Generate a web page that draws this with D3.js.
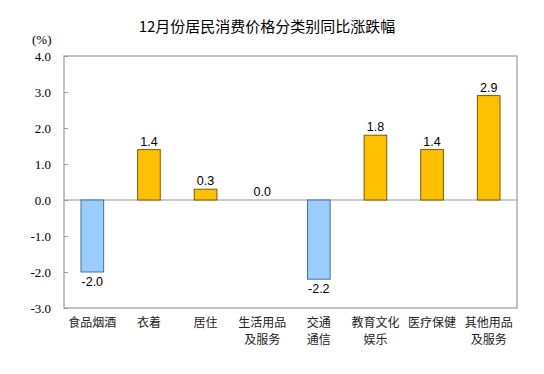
<!DOCTYPE html>
<html lang="zh">
<head>
<meta charset="utf-8">
<title>12月份居民消费价格分类别同比涨跌幅</title>
<script src="https://d3js.org/d3.v7.min.js"></script>
<style>
  body { margin: 0; background: #fff; }
  .title { font-family: "Noto Sans CJK SC", sans-serif; font-size: 15px; fill: #000; }
  .unit { font-family: "Liberation Serif", serif; font-size: 13px; fill: #000; }
  .cat { font-family: "Noto Sans CJK SC", sans-serif; font-size: 12px; fill: #222; }
  .val { font-family: "Liberation Sans", Arial, sans-serif; font-size: 12.5px; fill: #000; }
</style>
</head>
<body>
<script>
// data
var categories = ["食品烟酒", "衣着", "居住", "生活用品\n及服务", "交通\n通信", "教育文化\n娱乐", "医疗保健", "其他用品\n及服务"];
var values = [-2.0, 1.4, 0.3, 0.0, -2.2, 1.8, 1.4, 2.9];
var yTicks = [4, 3, 2, 1, 0, -1, -2, -3];

var width = 544, height = 374;
var margin = {top: 56, right: 27, bottom: 66, left: 64};

// plain hyphen for negatives, like the original
var fmt = function(d) { return d3.format(".1f")(d).replace("\u2212", "-"); };

var svg = d3.select("body").append("svg")
    .attr("width", width)
    .attr("height", height);

var x = d3.scaleBand()
    .domain(d3.range(categories.length))
    .range([margin.left, width - margin.right])
    .paddingInner(0.6)
    .paddingOuter(0.3);

var y = d3.scaleLinear()
    .domain([-3, 4])
    .range([height - margin.bottom, margin.top]);

// title
svg.append("text")
    .attr("class", "title")
    .attr("x", 267)
    .attr("y", 32)
    .attr("text-anchor", "middle")
    .text("12月份居民消费价格分类别同比涨跌幅");

svg.append("text")
    .attr("class", "unit")
    .attr("x", 32)
    .attr("y", 44)
    .text("(%)");

// plot frame
svg.append("rect")
    .attr("x", margin.left)
    .attr("y", margin.top)
    .attr("width", width - margin.left - margin.right)
    .attr("height", height - margin.top - margin.bottom)
    .attr("fill", "none")
    .attr("stroke", "#9a9a9a")
    .attr("stroke-width", 1.2);

// y axis
var yAxis = svg.append("g")
    .attr("transform", "translate(" + margin.left + ",0)")
    .call(d3.axisRight(y).tickValues(yTicks).tickFormat(fmt).tickSize(4));
yAxis.select(".domain").remove();
yAxis.selectAll(".tick line").attr("stroke", "#9a9a9a");
yAxis.selectAll(".tick text")
    .attr("x", -13)
    .attr("text-anchor", "end")
    .style("font-family", "'Liberation Serif', serif")
    .style("font-size", "13px")
    .style("fill", "#000");

// zero line
svg.append("line")
    .attr("x1", margin.left)
    .attr("x2", width - margin.right)
    .attr("y1", y(0))
    .attr("y2", y(0))
    .attr("stroke", "#9a9a9a")
    .attr("stroke-width", 1.2);

// bars
svg.selectAll(".bar")
    .data(values)
    .enter()
    .append("rect")
    .attr("class", "bar")
    .attr("x", function(d, i) { return x(i); })
    .attr("y", function(d) { return y(Math.max(0, d)); })
    .attr("width", x.bandwidth())
    .attr("height", function(d) { return Math.abs(y(d) - y(0)); })
    .attr("fill", function(d) { return d < 0 ? "#99ccff" : "#ffc000"; })
    .attr("stroke", function(d) { return d < 0 ? "#4a6f97" : "#7a5c00"; })
    .attr("stroke-width", 1)
    .attr("display", function(d) { return d === 0 ? "none" : null; });

// value labels
svg.selectAll(".val")
    .data(values)
    .enter()
    .append("text")
    .attr("class", "val")
    .attr("x", function(d, i) { return x(i) + x.bandwidth() / 2; })
    .attr("y", function(d) { return d < 0 ? y(d) + 14 : y(d) - 4; })
    .attr("text-anchor", "middle")
    .text(fmt);

// category labels
var cat = svg.selectAll(".cat")
    .data(categories)
    .enter()
    .append("text")
    .attr("class", "cat")
    .attr("text-anchor", "middle")
    .attr("x", function(d, i) { return x(i) + x.bandwidth() / 2; })
    .attr("y", 327);

cat.selectAll("tspan")
    .data(function(d) { return d.split("\n"); })
    .enter()
    .append("tspan")
    .attr("x", function() { return d3.select(this.parentNode).attr("x"); })
    .attr("dy", function(d, i) { return i === 0 ? 0 : 17; })
    .text(function(d) { return d; });
</script>
</body>
</html>
